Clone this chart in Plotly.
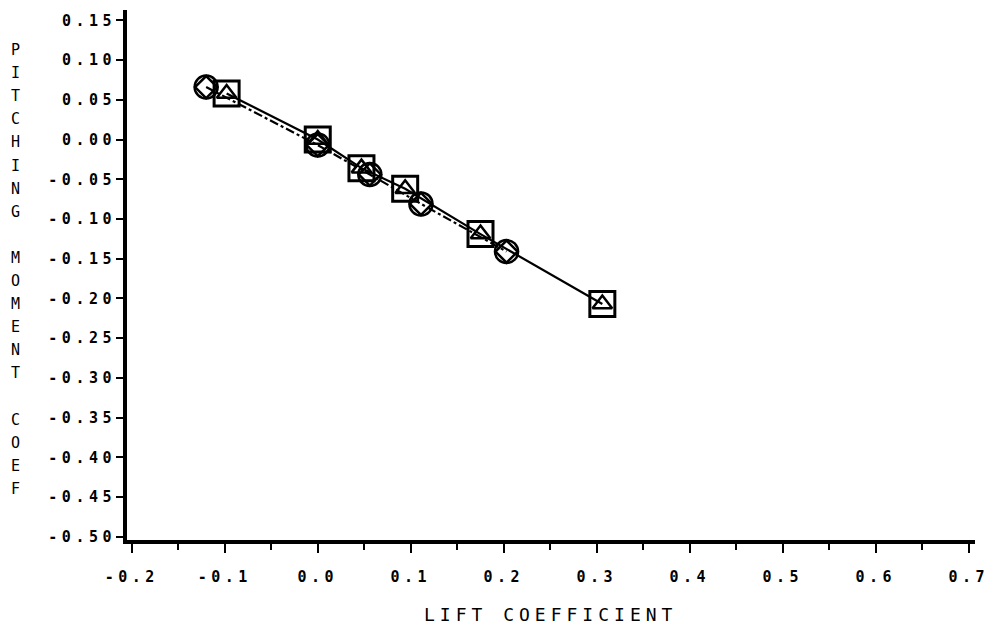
import plotly.graph_objects as go

# Lift coefficient / pitching-moment coefficient, two configurations
cl_square = [-0.098, 0.0, 0.047, 0.094, 0.175, 0.306]
cm_square = [0.058, 0.0, -0.036, -0.062, -0.119, -0.207]
cl_circle = [-0.120, 0.0, 0.056, 0.111, 0.203]
cm_circle = [0.066, -0.007, -0.044, -0.081, -0.141]

x_tick_vals = [-0.2, -0.1, 0.0, 0.1, 0.2, 0.3, 0.4, 0.5, 0.6, 0.7]
x_tick_text = ["-0.2", "-0.1", "0.0", "0.1", "0.2", "0.3", "0.4", "0.5", "0.6", "0.7"]
x_minor_vals = [-0.15, -0.05, 0.05, 0.15, 0.25, 0.35, 0.45, 0.55, 0.65]
y_tick_vals = [0.15, 0.10, 0.05, 0.0, -0.05, -0.10, -0.15, -0.20, -0.25,
               -0.30, -0.35, -0.40, -0.45, -0.50]
y_tick_text = ["0.15", "0.10", "0.05", "0.00", "-0.05", "-0.10", "-0.15", "-0.20",
               "-0.25", "-0.30", "-0.35", "-0.40", "-0.45", "-0.50"]

x_title = "LIFT COEFFICIENT"
y_title = "PITCHING MOMENT COEF"

INK = "black"
MONO = "DejaVu Sans Mono"

fig = go.Figure()

# connecting lines
fig.add_trace(go.Scatter(x=cl_square, y=cm_square, mode="lines",
                         line=dict(color=INK, width=2.2), hoverinfo="skip"))
fig.add_trace(go.Scatter(x=cl_circle, y=cm_circle, mode="lines",
                         line=dict(color=INK, width=2.2, dash="dashdot"), hoverinfo="skip"))

# square + triangle symbols
fig.add_trace(go.Scatter(x=cl_square, y=cm_square, mode="markers",
                         marker=dict(symbol="square-open", size=25, color=INK,
                                     line=dict(color=INK, width=3))))
fig.add_trace(go.Scatter(x=cl_square, y=cm_square, mode="markers",
                         marker=dict(symbol="triangle-up-open", size=17, color=INK,
                                     line=dict(color=INK, width=2.5))))
# circle + diamond symbols
fig.add_trace(go.Scatter(x=cl_circle, y=cm_circle, mode="markers",
                         marker=dict(symbol="circle-open", size=23, color=INK,
                                     line=dict(color=INK, width=2.5))))
fig.add_trace(go.Scatter(x=cl_circle, y=cm_circle, mode="markers",
                         marker=dict(symbol="diamond-open", size=17, color=INK,
                                     line=dict(color=INK, width=2.5))))

tick_font = dict(family=MONO, size=15, color=INK, weight="bold")

fig.update_layout(
    width=995, height=633, autosize=False,
    margin=dict(l=127, r=20, t=10, b=93),
    paper_bgcolor="white", plot_bgcolor="white",
    showlegend=False,
    xaxis=dict(
        range=[-0.2051, 0.7067], tickvals=x_tick_vals, ticktext=x_tick_text,
        ticks="outside", ticklen=9, tickwidth=2, tickcolor=INK,
        minor=dict(tickvals=x_minor_vals, ticks="outside", ticklen=6,
                   tickwidth=2, tickcolor=INK),
        showline=True, linewidth=4, linecolor=INK,
        showgrid=False, zeroline=False, tickfont=tick_font,
        ticklabelstandoff=11,
    ),
    yaxis=dict(
        range=[-0.504, 0.163], tickvals=y_tick_vals, ticktext=y_tick_text,
        ticks="outside", ticklen=7, tickwidth=2, tickcolor=INK,
        showline=True, linewidth=4, linecolor=INK,
        showgrid=False, zeroline=False, tickfont=tick_font,
        ticklabelstandoff=-3,
    ),
)

# x-axis title
annotations = [dict(text=x_title, xref="paper", yref="paper", x=0.5, y=-0.1415,
                    xanchor="center", yanchor="middle", showarrow=False,
                    font=dict(family=MONO, size=18, color=INK))]

# y-axis title, one letter per row
row_px = 23.1
top_px = 50.0
plot_h = 530.0
for i, ch in enumerate(y_title):
    if ch == " ":
        continue
    py = top_px + i * row_px
    annotations.append(dict(text=ch, xref="paper", yref="paper",
                            x=(15 - 127) / 848.0, y=(540.0 - py) / plot_h,
                            xanchor="center", yanchor="middle", showarrow=False,
                            font=dict(family=MONO, size=15, color=INK)))
fig.update_layout(annotations=annotations)

spacing_css = (
    "var s=document.createElement('style');"
    "s.textContent='.xtick text,.ytick text{letter-spacing:4.5px}"
    ".annotation[data-index=\"0\"] text{letter-spacing:5px}';"
    "document.head.appendChild(s);"
)

fig.write_html("out.html", post_script=spacing_css)
